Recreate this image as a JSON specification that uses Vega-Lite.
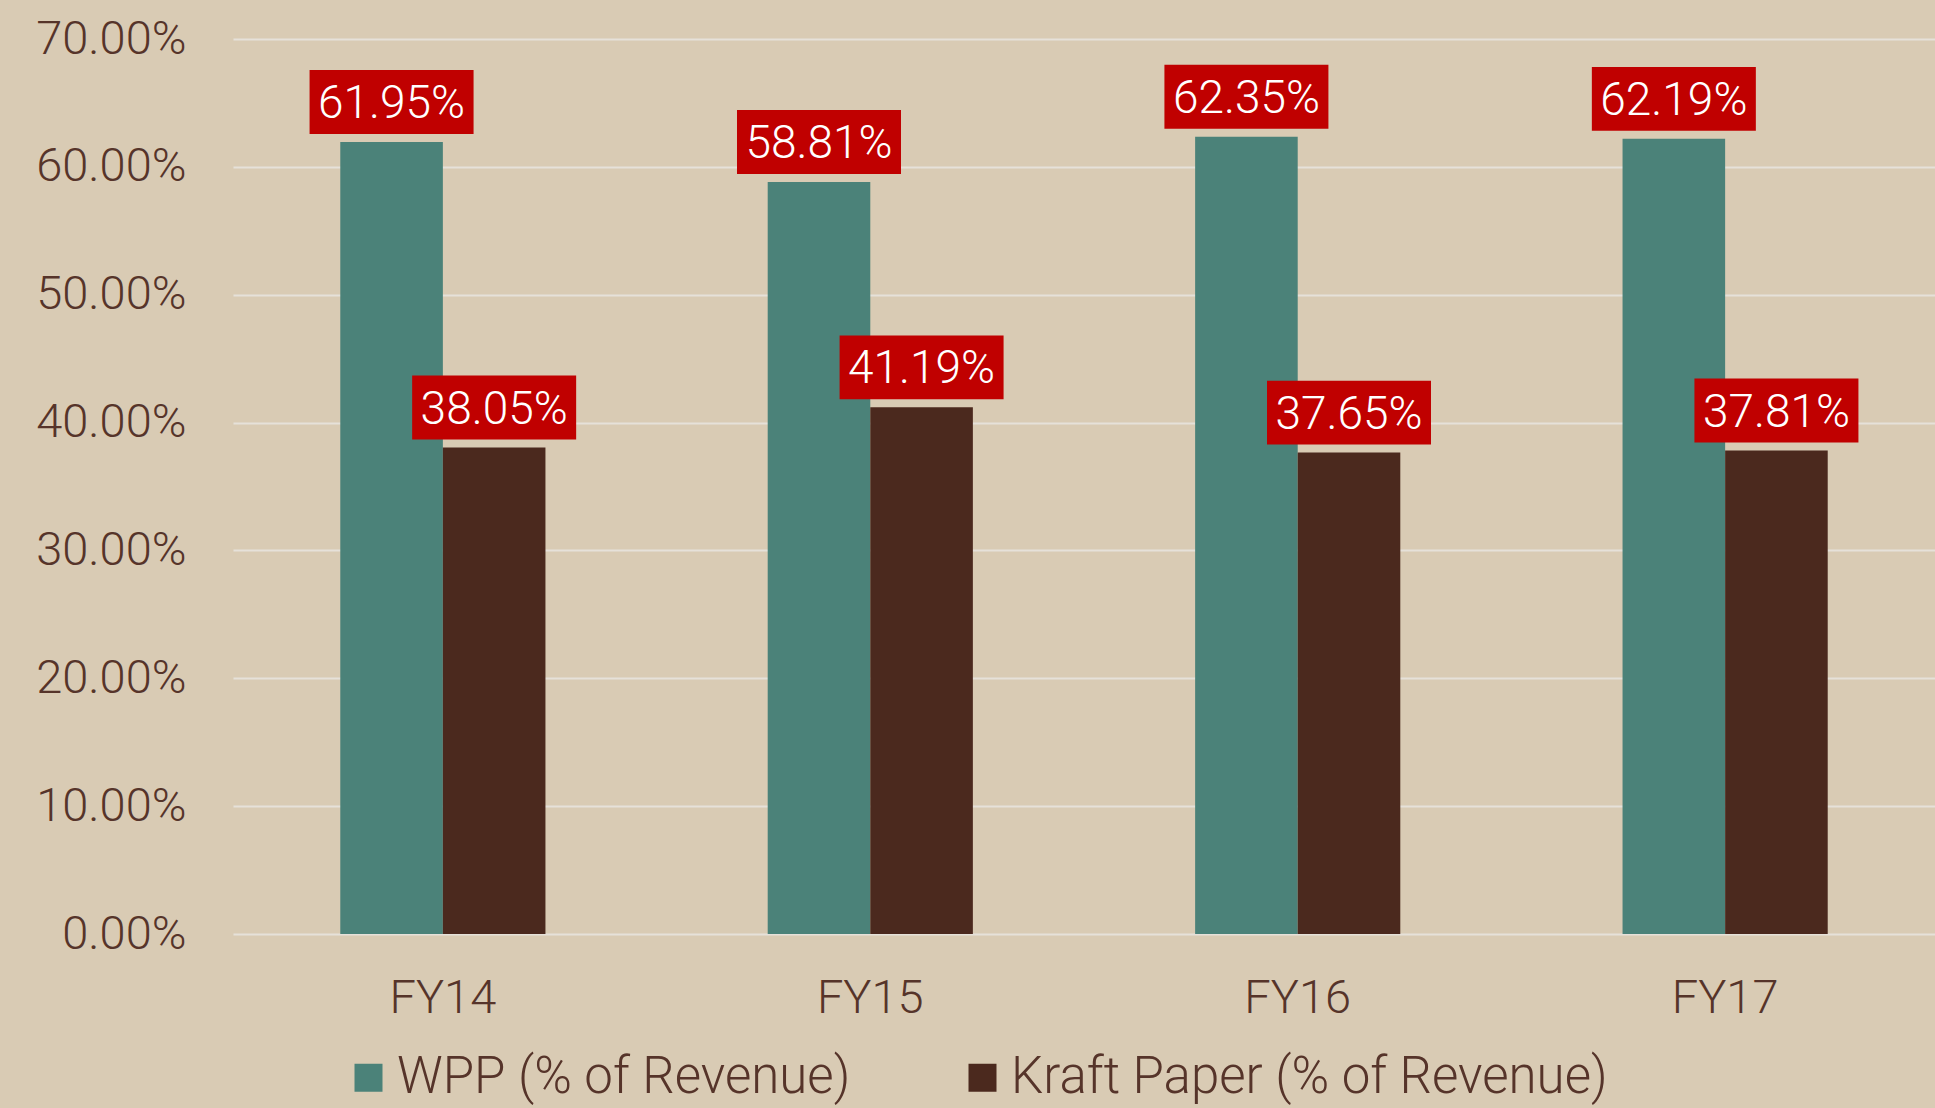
{
  "$schema": "https://vega.github.io/schema/vega-lite/v6.json",
  "autosize": {"type": "none"},
  "padding": {"left": 233, "top": 39, "right": 0, "bottom": 174},
  "width": 1702,
  "height": 895,
  "background": "#D9CBB4",
  "config": {
    "view": {"stroke": null},
    "font": "Roboto"
  },
  "data": {
    "values": [
      {"year": "FY14", "series": "WPP (% of Revenue)", "value": 0.6195},
      {"year": "FY14", "series": "Kraft Paper (% of Revenue)", "value": 0.3805},
      {"year": "FY15", "series": "WPP (% of Revenue)", "value": 0.5881},
      {"year": "FY15", "series": "Kraft Paper (% of Revenue)", "value": 0.4119},
      {"year": "FY16", "series": "WPP (% of Revenue)", "value": 0.6235},
      {"year": "FY16", "series": "Kraft Paper (% of Revenue)", "value": 0.3765},
      {"year": "FY17", "series": "WPP (% of Revenue)", "value": 0.6219},
      {"year": "FY17", "series": "Kraft Paper (% of Revenue)", "value": 0.3781}
    ]
  },
  "encoding": {
    "x": {
      "field": "year", "type": "nominal", "title": null,
      "scale": {"paddingInner": 0.52, "paddingOuter": 0.251},
      "axis": {
        "labelAngle": 0, "labelFont": "Roboto", "labelFontWeight": 300, "labelFontSize": 47,
        "labelColor": "#56342A", "labelPadding": 41, "labelBaseline": "top",
        "ticks": false, "domain": false, "grid": false
      }
    },
    "xOffset": {"field": "series", "type": "nominal", "sort": ["WPP (% of Revenue)", "Kraft Paper (% of Revenue)"]},
    "y": {
      "field": "value", "type": "quantitative", "title": null,
      "scale": {"domain": [0, 0.7], "nice": false},
      "axis": {
        "values": [0, 0.1, 0.2, 0.3, 0.4, 0.5, 0.6, 0.7], "format": ".2%",
        "labelFont": "Roboto", "labelFontWeight": 300, "labelFontSize": 47, "labelColor": "#56342A",
        "labelPadding": 47, "ticks": false, "domain": false,
        "grid": true, "gridColor": "#E6E1D9", "gridWidth": 2
      }
    }
  },
  "layer": [
    {
      "mark": {"type": "bar", "opacity": 1},
      "encoding": {
        "color": {
          "field": "series", "type": "nominal",
          "sort": ["WPP (% of Revenue)", "Kraft Paper (% of Revenue)"],
          "scale": {"domain": ["WPP (% of Revenue)", "Kraft Paper (% of Revenue)"], "range": ["#4B8279", "#4B291E"]},
          "legend": {
            "title": null, "orient": "none", "direction": "horizontal",
            "legendX": 110, "legendY": 1013,
            "symbolType": "square", "symbolSize": 784, "symbolStrokeWidth": 0, "symbolOpacity": 1,
            "labelFont": "Roboto", "labelFontWeight": 300, "labelFontSize": 51, "labelColor": "#56342A",
            "labelOffset": 3, "columnPadding": 106, "labelLimit": 1000
          }
        }
      }
    },
    {
      "mark": {
        "type": "point", "filled": true, "opacity": 1, "fill": "#C00000", "strokeWidth": 0,
        "shape": "M-1,-0.39L1,-0.39L1,0.39L-1,0.39Z", "size": 26896, "yOffset": -40
      },
      "encoding": {}
    },
    {
      "mark": {
        "type": "text", "color": "#FFFFFF", "font": "Roboto", "fontWeight": 300, "fontSize": 46,
        "baseline": "middle", "align": "center", "dy": -38
      },
      "encoding": {
        "text": {"field": "value", "type": "quantitative", "format": ".2%"}
      }
    }
  ]
}
